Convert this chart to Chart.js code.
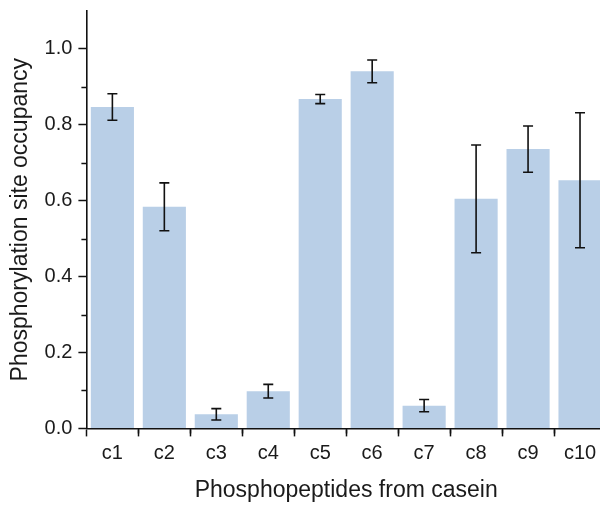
<!DOCTYPE html>
<html>
<head>
<meta charset="utf-8">
<script src="https://cdn.jsdelivr.net/npm/chart.js@4.4.1/dist/chart.umd.min.js"></script>
<style>
  html, body { margin: 0; padding: 0; background: #fff; overflow: hidden; }
  #wrap { width: 612px; height: 513px; margin-top: -7px; }
</style>
</head>
<body>
<div id="wrap"><canvas id="barChart"></canvas></div>
<script>
// data
var peptides = ["c1", "c2", "c3", "c4", "c5", "c6", "c7", "c8", "c9", "c10"];
var occupancy = [0.847, 0.584, 0.037, 0.098, 0.868, 0.941, 0.060, 0.605, 0.736, 0.654];
var errors = [0.035, 0.063, 0.015, 0.018, 0.012, 0.030, 0.016, 0.142, 0.061, 0.178];
var yTicks = [0.0, 0.2, 0.4, 0.6, 0.8, 1.0];
var yMinorTicks = [0.1, 0.3, 0.5, 0.7, 0.9];

// error bars + minor ticks
var extrasPlugin = {
  id: "extras",
  afterDatasetsDraw: function (chart) {
    var ctx = chart.ctx;
    var meta = chart.getDatasetMeta(0);
    var y = chart.scales.y;
    var x = chart.scales.x;
    ctx.save();
    ctx.strokeStyle = "#111";
    ctx.lineWidth = 1.6;
    meta.data.forEach(function (bar, i) {
      var cx = bar.x;
      var top = y.getPixelForValue(occupancy[i] + errors[i]);
      var bot = y.getPixelForValue(occupancy[i] - errors[i]);
      ctx.beginPath();
      ctx.moveTo(cx, top); ctx.lineTo(cx, bot);
      ctx.moveTo(cx - 5, top); ctx.lineTo(cx + 5, top);
      ctx.moveTo(cx - 5, bot); ctx.lineTo(cx + 5, bot);
      ctx.stroke();
    });
    // minor ticks
    ctx.lineWidth = 1.5;
    ctx.beginPath();
    yMinorTicks.forEach(function (v) {
      var py = Math.round(y.getPixelForValue(v)) + 0.5;
      ctx.moveTo(x.left, py); ctx.lineTo(x.left - 5, py);
    });
    for (var k = 1; k < peptides.length; k++) {
      var px = Math.round((x.getPixelForValue(k - 1) + x.getPixelForValue(k)) / 2) + 0.5;
      ctx.moveTo(px, y.bottom); ctx.lineTo(px, y.bottom + 5);
    }
    ctx.stroke();
    ctx.restore();
  }
};

var ctx = document.getElementById("barChart").getContext("2d");
var barChart = new Chart(ctx, {
  type: "bar",
  data: {
    labels: peptides,
    datasets: [
      {
        data: occupancy,
        backgroundColor: "#b9cfe7",
        borderWidth: 0,
        barPercentage: 0.83,
        categoryPercentage: 1.0
      }
    ]
  },
  options: {
    responsive: true,
    maintainAspectRatio: false,
    animation: false,
    layout: { padding: { top: 10, right: 6, left: 7, bottom: 2 } },
    plugins: { legend: { display: false }, tooltip: { enabled: false } },
    scales: {
      x: {
        grid: { drawOnChartArea: false, tickLength: 8, tickColor: "#111", tickWidth: 1.5 },
        border: { color: "#111", width: 1.6 },
        ticks: { color: "#1a1a1a", font: { family: "Liberation Sans, Arial", size: 20 }, padding: 5, maxRotation: 0 },
        title: {
          display: true,
          text: "Phosphopeptides from casein",
          color: "#1a1a1a",
          font: { family: "Liberation Sans, Arial", size: 23 },
          padding: { top: 6, bottom: 0 }
        }
      },
      y: {
        min: 0,
        max: 1.1,
        afterBuildTicks: function (scale) {
          scale.ticks = yTicks.map(function (v) { return { value: v }; });
        },
        grid: { drawOnChartArea: false, tickLength: 8, tickColor: "#111", tickWidth: 1.5 },
        border: { color: "#111", width: 1.6 },
        ticks: {
          color: "#1a1a1a",
          font: { family: "Liberation Sans, Arial", size: 20 },
          padding: 6,
          callback: function (v) { return Number(v).toFixed(1); }
        },
        title: {
          display: true,
          text: "Phosphorylation site occupancy",
          color: "#1a1a1a",
          font: { family: "Liberation Sans, Arial", size: 23 },
          padding: { top: 0, bottom: 4 }
        }
      }
    }
  },
  plugins: [extrasPlugin]
});
</script>
</body>
</html>
